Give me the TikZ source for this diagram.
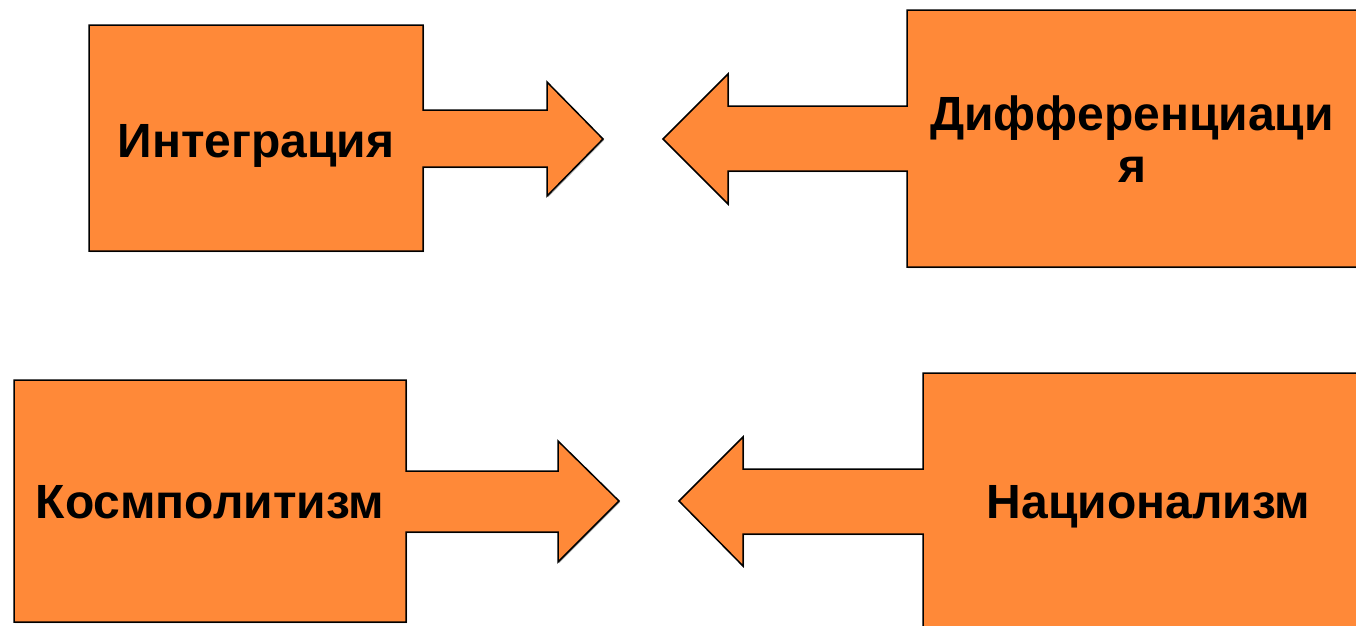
\documentclass[tikz,border=0pt]{standalone}
\usepackage{fontspec}
\setmainfont{Liberation Sans}
\definecolor{shapeorange}{RGB}{255,137,56}
\tikzset{
  callout/.style={fill=shapeorange, draw=black, line width=1.5pt, line join=miter},
  calloutshadow/.style={fill=black!30},
  label/.style={font=\fontsize{48}{52}\selectfont\bfseries, inner sep=0pt, text=black}
}
\begin{document}
\begin{tikzpicture}[x=1pt,y=-1pt]
\useasboundingbox (0,0) rectangle (1356,625);
\clip (0,0) rectangle (1356,625);
\def\shapeA{(89,25) -- (423,25) -- (423,110) -- (547,110) -- (547,82) -- (603,139) -- (547,196) -- (547,167) -- (423,167) -- (423,251) -- (89,251) -- cycle}
\def\shapeB{(1370,10) -- (907,10) -- (907,106) -- (728,106) -- (728,74) -- (663,139) -- (728,204) -- (728,171) -- (907,171) -- (907,267) -- (1370,267) -- cycle}
\def\shapeC{(14,380) -- (406,380) -- (406,471) -- (558,471) -- (558,441) -- (619,501) -- (558,562) -- (558,532) -- (406,532) -- (406,622) -- (14,622) -- cycle}
\def\shapeD{(1370,373) -- (923,373) -- (923,469) -- (743,469) -- (743,437) -- (679,501) -- (743,566) -- (743,534) -- (923,534) -- (923,640) -- (1370,640) -- cycle}
\begin{scope}[shift={(1.2,1.2)}]
  \fill[calloutshadow] \shapeA;
  \fill[calloutshadow] \shapeB;
  \fill[calloutshadow] \shapeC;
  \fill[calloutshadow] \shapeD;
\end{scope}
\draw[callout] \shapeA;
\draw[callout] \shapeB;
\draw[callout] \shapeC;
\draw[callout] \shapeD;
\node[label, anchor=base] (integ) at (256,157) {Интеграция};
\node[label, align=center] (diff) at (1132,139) {Дифференциаци\\я};
\node[label, anchor=base] (kosm) at (210,518) {Космполитизм};
\node[label, anchor=base] (nac) at (1148.5,518) {Национализм};
\end{tikzpicture}
\end{document}
